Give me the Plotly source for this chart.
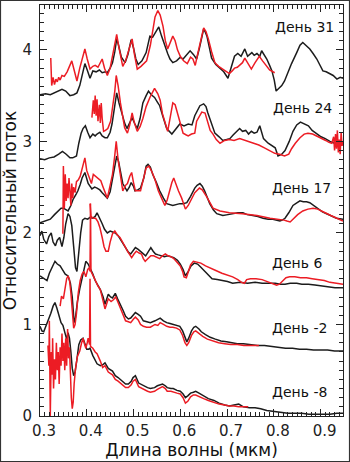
import plotly.graph_objects as go

# Spectra (wavelength in micrometres, relative flux with vertical offsets per epoch)
DAY31_BLACK = [
    (0.300, 3.51), (0.312, 3.52), (0.322, 3.51), (0.335, 3.54), (0.347, 3.57), (0.355, 3.55),
    (0.364, 3.50), (0.372, 3.51), (0.379, 3.53), (0.385, 3.61), (0.391, 3.75), (0.396, 3.85),
    (0.401, 3.78), (0.407, 3.69), (0.413, 3.77), (0.420, 3.76), (0.427, 3.78), (0.433, 3.75),
    (0.440, 3.76), (0.444, 3.75), (0.450, 3.80), (0.455, 3.86), (0.460, 3.98), (0.464, 4.12),
    (0.468, 4.05), (0.474, 3.92), (0.482, 3.86), (0.488, 3.95), (0.495, 4.11), (0.500, 4.02),
    (0.505, 3.90), (0.510, 3.84), (0.518, 3.88), (0.527, 3.97), (0.535, 4.15), (0.541, 4.14),
    (0.547, 4.19), (0.554, 4.25), (0.560, 4.15), (0.566, 4.05), (0.573, 3.96), (0.578, 3.90),
    (0.584, 3.86), (0.592, 3.88), (0.600, 3.92), (0.606, 3.90), (0.614, 3.95), (0.621, 3.99),
    (0.628, 3.95), (0.635, 3.90), (0.641, 4.02), (0.646, 4.12), (0.650, 4.23), (0.653, 4.20),
    (0.657, 4.15), (0.662, 4.03), (0.667, 3.91), (0.676, 3.84), (0.685, 3.80), (0.693, 3.76),
    (0.702, 3.69), (0.709, 3.80), (0.716, 3.93), (0.723, 3.96), (0.730, 3.93), (0.738, 4.01),
    (0.744, 3.93), (0.753, 3.97), (0.758, 3.94), (0.764, 3.96), (0.770, 3.93), (0.774, 3.99),
    (0.779, 3.95), (0.785, 3.90), (0.791, 3.83), (0.796, 3.77), (0.801, 3.67), (0.805, 3.55),
    (0.811, 3.58), (0.817, 3.61), (0.823, 3.66), (0.830, 3.75), (0.838, 3.85), (0.849, 3.97),
    (0.856, 4.05), (0.862, 4.08), (0.869, 4.05), (0.877, 4.01), (0.884, 3.96), (0.892, 3.90),
    (0.898, 3.84), (0.905, 3.77), (0.912, 3.76), (0.920, 3.74), (0.927, 3.72), (0.935, 3.68),
    (0.942, 3.70), (0.948, 3.69),
]
DAY31_RED = [
    (0.323, 3.91), (0.325, 3.61), (0.328, 3.70), (0.331, 3.62), (0.334, 3.68), (0.337, 3.65),
    (0.340, 3.70), (0.343, 3.67), (0.347, 3.72), (0.352, 3.71), (0.358, 3.76), (0.364, 3.84),
    (0.368, 3.88), (0.373, 3.78), (0.379, 3.66), (0.385, 3.80), (0.391, 3.93), (0.396, 4.01),
    (0.401, 3.90), (0.407, 3.79), (0.413, 3.82), (0.418, 3.83), (0.424, 3.81), (0.429, 3.86),
    (0.433, 3.90), (0.438, 3.80), (0.444, 3.72), (0.450, 3.80), (0.455, 3.93), (0.460, 4.05),
    (0.464, 4.17), (0.469, 4.02), (0.477, 3.82), (0.483, 3.88), (0.490, 4.00), (0.497, 4.12),
    (0.502, 3.95), (0.508, 3.79), (0.516, 3.82), (0.528, 3.88), (0.536, 4.05), (0.541, 4.23),
    (0.546, 4.36), (0.552, 4.43), (0.557, 4.38), (0.563, 4.26), (0.568, 4.10), (0.573, 4.01),
    (0.579, 4.08), (0.584, 4.15), (0.589, 4.10), (0.594, 4.00), (0.600, 3.93), (0.607, 3.88),
    (0.615, 3.85), (0.622, 3.92), (0.627, 3.90), (0.632, 3.83), (0.637, 3.95), (0.643, 4.10),
    (0.650, 4.24), (0.655, 4.20), (0.660, 4.12), (0.667, 3.98), (0.674, 3.86), (0.682, 3.82),
    (0.691, 3.79), (0.698, 3.76), (0.705, 3.74), (0.711, 3.77), (0.716, 3.80), (0.722, 3.81),
    (0.727, 3.83), (0.733, 3.86), (0.738, 3.91), (0.745, 3.85), (0.752, 3.79), (0.760, 3.86),
    (0.769, 3.93), (0.776, 3.88), (0.784, 3.83), (0.791, 3.78), (0.802, 3.75),
]

DAY24_BLACK = [
    (0.300, 2.81), (0.310, 2.80), (0.320, 2.82), (0.330, 2.83), (0.340, 2.86), (0.348, 2.89),
    (0.356, 2.86), (0.364, 2.82), (0.370, 2.82), (0.378, 2.84), (0.383, 2.98), (0.388, 3.09),
    (0.392, 3.14), (0.397, 3.17), (0.402, 3.10), (0.407, 3.04), (0.413, 3.08), (0.418, 3.06),
    (0.422, 3.08), (0.428, 3.10), (0.433, 3.06), (0.439, 3.04), (0.444, 3.04), (0.450, 3.10),
    (0.454, 3.19), (0.459, 3.35), (0.464, 3.53), (0.469, 3.42), (0.475, 3.31), (0.481, 3.20),
    (0.486, 3.14), (0.492, 3.20), (0.497, 3.26), (0.503, 3.19), (0.508, 3.14), (0.514, 3.25),
    (0.520, 3.42), (0.527, 3.50), (0.532, 3.55), (0.538, 3.51), (0.545, 3.48), (0.551, 3.43),
    (0.556, 3.39), (0.563, 3.27), (0.571, 3.14), (0.582, 3.08), (0.590, 3.13), (0.599, 3.19),
    (0.608, 3.17), (0.617, 3.19), (0.625, 3.18), (0.631, 3.28), (0.637, 3.34), (0.642, 3.39),
    (0.650, 3.41), (0.655, 3.38), (0.659, 3.31), (0.666, 3.20), (0.674, 3.09), (0.683, 3.05),
    (0.691, 3.01), (0.699, 3.02), (0.706, 3.03), (0.713, 3.07), (0.721, 3.11), (0.727, 3.14),
    (0.733, 3.11), (0.740, 3.12), (0.746, 3.08), (0.752, 3.11), (0.758, 3.09), (0.764, 3.10),
    (0.770, 3.17), (0.774, 3.10), (0.778, 3.03), (0.788, 2.98), (0.798, 2.94), (0.803, 2.93),
    (0.809, 2.84), (0.817, 2.86), (0.824, 2.90), (0.833, 3.00), (0.841, 3.11), (0.849, 3.18),
    (0.857, 3.21), (0.865, 3.19), (0.874, 3.17), (0.882, 3.12), (0.892, 3.08), (0.901, 3.05),
    (0.910, 3.03), (0.920, 3.00), (0.930, 2.98), (0.940, 2.97), (0.948, 2.97),
]
DAY24_RED = [
    (0.411, 3.26), (0.414, 3.45), (0.416, 3.30), (0.418, 3.50), (0.420, 3.28), (0.422, 3.46),
    (0.424, 3.22), (0.427, 3.40), (0.429, 3.20), (0.431, 3.42), (0.433, 3.25), (0.436, 3.11),
    (0.440, 3.12), (0.445, 3.14), (0.451, 3.22), (0.456, 3.39), (0.460, 3.55), (0.463, 3.72),
    (0.467, 3.61), (0.472, 3.42), (0.476, 3.28), (0.481, 3.15), (0.487, 3.09), (0.492, 3.18),
    (0.497, 3.31), (0.502, 3.20), (0.508, 3.11), (0.514, 3.16), (0.520, 3.25), (0.527, 3.38),
    (0.535, 3.48), (0.541, 3.55), (0.545, 3.58), (0.552, 3.52), (0.557, 3.45), (0.562, 3.30),
    (0.567, 3.20), (0.573, 3.11), (0.578, 3.25), (0.584, 3.42), (0.589, 3.40), (0.595, 3.28),
    (0.600, 3.18), (0.606, 3.09), (0.613, 3.07), (0.617, 3.06), (0.624, 3.08), (0.631, 3.09),
    (0.635, 3.22), (0.643, 3.30), (0.646, 3.32), (0.653, 3.31), (0.658, 3.22), (0.664, 3.12),
    (0.670, 3.08), (0.677, 3.02), (0.685, 2.98), (0.695, 3.01), (0.705, 3.02), (0.715, 3.01),
    (0.727, 3.03), (0.738, 3.01), (0.748, 2.99), (0.758, 2.98), (0.768, 2.96), (0.780, 2.93),
    (0.791, 2.90), (0.802, 2.87), (0.812, 2.86), (0.823, 2.84), (0.832, 2.86), (0.838, 2.92),
    (0.846, 2.98), (0.856, 3.04), (0.865, 3.08), (0.873, 3.09), (0.883, 3.08), (0.892, 3.06),
    (0.902, 3.03), (0.911, 3.01), (0.918, 2.99), (0.924, 2.98), (0.928, 3.05), (0.930, 2.90),
    (0.932, 3.08), (0.934, 2.92), (0.936, 3.12), (0.938, 2.88), (0.940, 3.02), (0.942, 2.86),
    (0.944, 3.10), (0.946, 2.95), (0.948, 3.00),
]

DAY17_BLACK = [
    (0.300, 2.11), (0.311, 2.13), (0.322, 2.15), (0.331, 2.20), (0.339, 2.24), (0.345, 2.27),
    (0.350, 2.27), (0.355, 2.25), (0.360, 2.24), (0.366, 2.30), (0.371, 2.37), (0.377, 2.42),
    (0.381, 2.46), (0.386, 2.53), (0.390, 2.60), (0.396, 2.66), (0.400, 2.60), (0.403, 2.54),
    (0.411, 2.48), (0.417, 2.50), (0.422, 2.49), (0.428, 2.47), (0.433, 2.44), (0.439, 2.41),
    (0.444, 2.38), (0.450, 2.45), (0.454, 2.57), (0.460, 2.72), (0.464, 2.84), (0.468, 2.78),
    (0.471, 2.71), (0.477, 2.54), (0.486, 2.46), (0.491, 2.50), (0.495, 2.55), (0.500, 2.51),
    (0.503, 2.46), (0.509, 2.47), (0.515, 2.49), (0.522, 2.60), (0.527, 2.73), (0.531, 2.75),
    (0.536, 2.72), (0.541, 2.64), (0.549, 2.55), (0.556, 2.46), (0.564, 2.38), (0.571, 2.32),
    (0.584, 2.30), (0.599, 2.32), (0.606, 2.32), (0.614, 2.33), (0.622, 2.40), (0.631, 2.49),
    (0.636, 2.52), (0.642, 2.54), (0.647, 2.51), (0.652, 2.46), (0.663, 2.32), (0.671, 2.25),
    (0.678, 2.21), (0.691, 2.19), (0.702, 2.20), (0.713, 2.21), (0.723, 2.22), (0.734, 2.22),
    (0.743, 2.20), (0.755, 2.19), (0.766, 2.18), (0.777, 2.16), (0.788, 2.15), (0.798, 2.15),
    (0.807, 2.14), (0.813, 2.13), (0.818, 2.14), (0.824, 2.16), (0.832, 2.22), (0.841, 2.30),
    (0.850, 2.33), (0.856, 2.35), (0.863, 2.34), (0.870, 2.34), (0.877, 2.33), (0.885, 2.30),
    (0.894, 2.27), (0.904, 2.23), (0.913, 2.21), (0.924, 2.18), (0.934, 2.16), (0.948, 2.15),
]
DAY17_RED = [
    (0.349, 1.99), (0.350, 2.73), (0.352, 2.27), (0.354, 2.64), (0.356, 2.35), (0.358, 2.54),
    (0.360, 2.38), (0.362, 2.60), (0.364, 2.46), (0.366, 2.30), (0.368, 2.54), (0.370, 2.38),
    (0.372, 2.50), (0.375, 2.44), (0.378, 2.56), (0.382, 2.58), (0.386, 2.62), (0.391, 2.72),
    (0.396, 2.82), (0.400, 2.68), (0.405, 2.60), (0.410, 2.54), (0.414, 2.64), (0.419, 2.62),
    (0.425, 2.60), (0.430, 2.57), (0.435, 2.50), (0.440, 2.42), (0.444, 2.38), (0.450, 2.52),
    (0.455, 2.64), (0.460, 2.85), (0.463, 3.00), (0.467, 2.80), (0.471, 2.68), (0.477, 2.46),
    (0.483, 2.52), (0.487, 2.54), (0.492, 2.62), (0.496, 2.66), (0.500, 2.55), (0.504, 2.46),
    (0.515, 2.46), (0.521, 2.60), (0.527, 2.71), (0.533, 2.73), (0.540, 2.66), (0.546, 2.58),
    (0.553, 2.46), (0.560, 2.38), (0.567, 2.30), (0.572, 2.36), (0.577, 2.46), (0.582, 2.55),
    (0.586, 2.60), (0.591, 2.52), (0.596, 2.46), (0.603, 2.38), (0.607, 2.33), (0.611, 2.26),
    (0.617, 2.30), (0.625, 2.38), (0.631, 2.44), (0.641, 2.49), (0.647, 2.47), (0.656, 2.40),
    (0.666, 2.30), (0.670, 2.27), (0.685, 2.24), (0.705, 2.22), (0.733, 2.21), (0.764, 2.19),
    (0.792, 2.16), (0.812, 2.15), (0.822, 2.14), (0.828, 2.13), (0.835, 2.12), (0.841, 2.15),
    (0.851, 2.20), (0.862, 2.24), (0.873, 2.26), (0.884, 2.27), (0.894, 2.26), (0.902, 2.24),
    (0.913, 2.21), (0.922, 2.19), (0.935, 2.16), (0.948, 2.13),
]

DAY6_BLACK = [
    (0.300, 1.97), (0.304, 2.02), (0.308, 1.93), (0.314, 1.88), (0.319, 1.96), (0.324, 2.00),
    (0.328, 1.90), (0.333, 1.86), (0.337, 1.92), (0.342, 1.95), (0.347, 1.85), (0.351, 1.95),
    (0.355, 2.10), (0.360, 2.21), (0.364, 2.18), (0.368, 2.08), (0.372, 1.85), (0.376, 1.62),
    (0.379, 1.58), (0.383, 1.80), (0.387, 2.00), (0.391, 2.14), (0.396, 2.16), (0.402, 2.15),
    (0.407, 2.17), (0.412, 2.16), (0.418, 2.18), (0.422, 2.22), (0.427, 2.17), (0.433, 2.10),
    (0.438, 2.04), (0.444, 2.00), (0.450, 2.02), (0.455, 2.01), (0.461, 2.00), (0.467, 1.97),
    (0.472, 1.93), (0.478, 1.88), (0.483, 1.84), (0.489, 1.79), (0.494, 1.77), (0.499, 1.80),
    (0.504, 1.84), (0.510, 1.82), (0.515, 1.80), (0.520, 1.78), (0.526, 1.75), (0.531, 1.79),
    (0.537, 1.84), (0.542, 1.80), (0.547, 1.77), (0.553, 1.76), (0.558, 1.75), (0.566, 1.74),
    (0.573, 1.75), (0.580, 1.74), (0.586, 1.73), (0.594, 1.70), (0.600, 1.66), (0.606, 1.60),
    (0.611, 1.53), (0.617, 1.58), (0.623, 1.64), (0.630, 1.67), (0.637, 1.66), (0.643, 1.63),
    (0.652, 1.58), (0.660, 1.54), (0.668, 1.50), (0.679, 1.49), (0.690, 1.48), (0.701, 1.47),
    (0.712, 1.45), (0.728, 1.46), (0.744, 1.45), (0.760, 1.46), (0.775, 1.45), (0.790, 1.45),
    (0.803, 1.45), (0.814, 1.44), (0.824, 1.44), (0.835, 1.45), (0.849, 1.45), (0.860, 1.44),
    (0.874, 1.44), (0.888, 1.43), (0.903, 1.42), (0.917, 1.41), (0.931, 1.40), (0.948, 1.40),
]
DAY6_RED = [
    (0.407, 2.32), (0.409, 2.18), (0.414, 2.16), (0.419, 2.16), (0.424, 2.12), (0.428, 2.06),
    (0.433, 1.95), (0.437, 1.85), (0.441, 1.80), (0.446, 1.80), (0.450, 1.90), (0.455, 1.99),
    (0.460, 2.02), (0.465, 1.98), (0.471, 1.95), (0.477, 1.90), (0.482, 1.85), (0.487, 1.80),
    (0.492, 1.76), (0.496, 1.73), (0.501, 1.77), (0.506, 1.80), (0.512, 1.78), (0.517, 1.77),
    (0.521, 1.72), (0.525, 1.69), (0.531, 1.72), (0.537, 1.75), (0.543, 1.75), (0.549, 1.74),
    (0.556, 1.72), (0.562, 1.75), (0.568, 1.77), (0.574, 1.75), (0.580, 1.74), (0.586, 1.72),
    (0.592, 1.68), (0.600, 1.64), (0.605, 1.58), (0.608, 1.52), (0.613, 1.51), (0.617, 1.58),
    (0.622, 1.65), (0.628, 1.69), (0.634, 1.68), (0.644, 1.67), (0.654, 1.64), (0.664, 1.62),
    (0.676, 1.59), (0.689, 1.56), (0.700, 1.54), (0.712, 1.52), (0.723, 1.49), (0.731, 1.46),
    (0.737, 1.45), (0.742, 1.49), (0.750, 1.50), (0.762, 1.50), (0.775, 1.49), (0.785, 1.47),
    (0.793, 1.45), (0.800, 1.44), (0.806, 1.43), (0.812, 1.44), (0.819, 1.47), (0.826, 1.51),
    (0.834, 1.52), (0.845, 1.52), (0.857, 1.51), (0.870, 1.51), (0.882, 1.50), (0.895, 1.49),
    (0.908, 1.48), (0.920, 1.46), (0.933, 1.45), (0.948, 1.44),
]

DAYM2_BLACK = [
    (0.300, 1.53), (0.308, 1.50), (0.315, 1.48), (0.320, 1.56), (0.326, 1.62), (0.332, 1.69),
    (0.337, 1.66), (0.343, 1.64), (0.348, 1.60), (0.354, 1.55), (0.360, 1.53), (0.365, 1.45),
    (0.369, 1.30), (0.371, 1.08), (0.373, 1.02), (0.376, 1.08), (0.380, 1.25), (0.385, 1.39),
    (0.392, 1.55), (0.398, 1.69), (0.403, 1.66), (0.407, 1.62), (0.413, 1.55), (0.418, 1.48),
    (0.422, 1.44), (0.429, 1.38), (0.435, 1.30), (0.439, 1.22), (0.446, 1.33), (0.451, 1.30),
    (0.455, 1.29), (0.461, 1.34), (0.466, 1.28), (0.472, 1.22), (0.478, 1.15), (0.483, 1.09),
    (0.489, 1.06), (0.494, 1.07), (0.500, 1.11), (0.504, 1.13), (0.510, 1.11), (0.515, 1.09),
    (0.521, 1.04), (0.528, 1.03), (0.536, 1.02), (0.546, 1.04), (0.552, 1.06), (0.557, 1.07),
    (0.564, 1.04), (0.571, 1.02), (0.578, 1.01), (0.584, 1.00), (0.592, 0.99), (0.599, 0.98),
    (0.605, 0.93), (0.610, 0.85), (0.614, 0.81), (0.618, 0.85), (0.624, 0.93), (0.629, 0.97),
    (0.633, 0.98), (0.640, 0.95), (0.645, 0.92), (0.654, 0.89), (0.664, 0.86), (0.675, 0.84),
    (0.687, 0.82), (0.699, 0.81), (0.710, 0.80), (0.722, 0.79), (0.735, 0.79), (0.750, 0.78),
    (0.765, 0.77), (0.780, 0.77), (0.795, 0.76), (0.810, 0.75), (0.825, 0.74), (0.840, 0.74),
    (0.855, 0.73), (0.870, 0.73), (0.885, 0.72), (0.900, 0.72), (0.915, 0.72), (0.930, 0.71),
    (0.948, 0.71),
]
DAYM2_RED = [
    (0.343, 1.20), (0.346, 1.31), (0.350, 1.28), (0.353, 1.39), (0.357, 1.50), (0.360, 1.53),
    (0.363, 1.49), (0.366, 1.35), (0.369, 1.15), (0.372, 0.96), (0.375, 1.00), (0.378, 1.12),
    (0.382, 1.35), (0.386, 1.48), (0.390, 1.55), (0.394, 1.58), (0.398, 1.52), (0.402, 1.60),
    (0.405, 1.62), (0.407, 1.58), (0.408, 2.32), (0.409, 1.58), (0.412, 1.55), (0.418, 1.48),
    (0.424, 1.42), (0.429, 1.38), (0.435, 1.25), (0.439, 1.17), (0.446, 1.28), (0.452, 1.25),
    (0.457, 1.27), (0.462, 1.30), (0.467, 1.24), (0.473, 1.17), (0.479, 1.08), (0.483, 1.04),
    (0.489, 1.03), (0.494, 1.02), (0.500, 1.06), (0.504, 1.08), (0.510, 1.05), (0.515, 1.00),
    (0.521, 0.98), (0.528, 0.97), (0.536, 0.97), (0.546, 1.00), (0.552, 0.99), (0.557, 1.02),
    (0.564, 1.00), (0.571, 0.98), (0.578, 0.97), (0.584, 0.97), (0.592, 0.96), (0.599, 0.94),
    (0.605, 0.88), (0.610, 0.80), (0.614, 0.77), (0.618, 0.80), (0.624, 0.88), (0.629, 0.92),
    (0.633, 0.93), (0.640, 0.90), (0.648, 0.87), (0.658, 0.84), (0.670, 0.82), (0.682, 0.80),
    (0.695, 0.79), (0.708, 0.78), (0.722, 0.78), (0.736, 0.77), (0.750, 0.77), (0.762, 0.77),
    (0.768, 0.77),
]

DAYM8_BLACK = [
    (0.300, 0.98), (0.304, 0.93), (0.308, 0.92), (0.313, 0.98), (0.318, 1.05), (0.323, 1.12),
    (0.328, 1.20), (0.332, 1.24), (0.336, 1.18), (0.340, 1.12), (0.345, 1.02), (0.349, 0.99),
    (0.353, 0.92), (0.357, 0.84), (0.360, 0.91), (0.363, 0.85), (0.366, 0.70), (0.369, 0.52),
    (0.372, 0.44), (0.375, 0.48), (0.379, 0.62), (0.383, 0.78), (0.387, 0.83), (0.392, 0.85),
    (0.396, 0.79), (0.400, 0.73), (0.404, 0.73), (0.407, 0.74), (0.413, 0.66), (0.418, 0.61),
    (0.422, 0.57), (0.429, 0.55), (0.434, 0.56), (0.439, 0.58), (0.446, 0.52), (0.455, 0.49),
    (0.461, 0.44), (0.467, 0.42), (0.472, 0.40), (0.478, 0.37), (0.483, 0.35), (0.489, 0.35),
    (0.495, 0.38), (0.499, 0.42), (0.504, 0.44), (0.511, 0.36), (0.521, 0.33), (0.530, 0.31),
    (0.536, 0.30), (0.545, 0.31), (0.551, 0.33), (0.557, 0.34), (0.562, 0.35), (0.568, 0.33),
    (0.572, 0.31), (0.580, 0.30), (0.585, 0.30), (0.593, 0.28), (0.600, 0.27), (0.606, 0.24),
    (0.611, 0.20), (0.616, 0.22), (0.622, 0.25), (0.628, 0.26), (0.633, 0.27), (0.640, 0.25),
    (0.650, 0.22), (0.660, 0.19), (0.672, 0.17), (0.683, 0.14), (0.695, 0.12), (0.705, 0.11),
    (0.715, 0.12), (0.725, 0.13), (0.735, 0.10), (0.748, 0.09), (0.760, 0.09), (0.772, 0.08),
    (0.785, 0.06), (0.800, 0.05), (0.815, 0.04), (0.830, 0.03), (0.845, 0.03), (0.860, 0.03),
    (0.875, 0.02), (0.890, 0.02), (0.905, 0.02), (0.920, 0.02), (0.935, 0.03), (0.948, 0.03),
]
DAYM8_RED = [
    (0.317, 0.77), (0.319, 0.55), (0.320, 1.04), (0.321, 0.20), (0.322, 0.00), (0.324, 0.70),
    (0.326, 0.45), (0.327, 0.85), (0.329, 0.30), (0.331, 0.62), (0.333, 0.40), (0.335, 0.80),
    (0.337, 0.50), (0.339, 0.70), (0.341, 0.35), (0.343, 0.75), (0.345, 0.55), (0.347, 0.90),
    (0.349, 0.60), (0.351, 0.80), (0.353, 0.50), (0.355, 0.85), (0.357, 0.55), (0.359, 0.95),
    (0.361, 0.63), (0.363, 0.75), (0.365, 0.38), (0.367, 0.20), (0.369, 0.08), (0.371, 0.15),
    (0.373, 0.35), (0.376, 0.52), (0.380, 0.65), (0.385, 0.71), (0.389, 0.80), (0.392, 0.85),
    (0.395, 0.79), (0.398, 0.74), (0.401, 0.80), (0.403, 0.85), (0.406, 0.78), (0.407, 1.50),
    (0.408, 0.76), (0.413, 0.74), (0.418, 0.70), (0.422, 0.68), (0.429, 0.60), (0.434, 0.53),
    (0.439, 0.55), (0.446, 0.48), (0.455, 0.45), (0.461, 0.40), (0.467, 0.38), (0.472, 0.36),
    (0.478, 0.33), (0.483, 0.31), (0.489, 0.31), (0.495, 0.34), (0.499, 0.38), (0.504, 0.40),
    (0.511, 0.32), (0.521, 0.29), (0.530, 0.27), (0.536, 0.26), (0.545, 0.27), (0.551, 0.29),
    (0.557, 0.31), (0.562, 0.32), (0.568, 0.30), (0.572, 0.27), (0.580, 0.27), (0.585, 0.26),
    (0.593, 0.25), (0.600, 0.24), (0.606, 0.20), (0.611, 0.14), (0.616, 0.16), (0.622, 0.21),
    (0.628, 0.23), (0.633, 0.23), (0.640, 0.21), (0.650, 0.19), (0.660, 0.17), (0.672, 0.15),
    (0.683, 0.13), (0.695, 0.12), (0.705, 0.11), (0.715, 0.11), (0.725, 0.10), (0.735, 0.10),
    (0.745, 0.10),
]

# Epoch labels and their anchor points
EPOCH_LABELS = ["День 31", "День 24", "День 17", "День 6", "День -2", "День -8"]
LABEL_WL = [0.866, 0.862, 0.860, 0.849, 0.856, 0.856]
LABEL_FLUX = [4.25, 3.37, 2.49, 1.67, 0.96, 0.26]

X_TICKS = [0.3, 0.4, 0.5, 0.6, 0.7, 0.8, 0.9]
Y_TICKS = [0, 1, 2, 3, 4]

BLACK = "#1c1c1c"
RED = "#ec1c24"
FONT = "DejaVu Sans"

observed = [DAY31_BLACK, DAY24_BLACK, DAY17_BLACK, DAY6_BLACK, DAYM2_BLACK, DAYM8_BLACK]
template = [DAY31_RED, DAY24_RED, DAY17_RED, DAY6_RED, DAYM2_RED, DAYM8_RED]

fig = go.Figure()
for group, color in ((observed, BLACK), (template, RED)):
    for pts in group:
        fig.add_trace(go.Scatter(
            x=[p[0] for p in pts], y=[p[1] for p in pts], mode="lines",
            line=dict(color=color, width=1.5), hoverinfo="skip", showlegend=False,
        ))

for text, wl, fl in zip(EPOCH_LABELS, LABEL_WL, LABEL_FLUX):
    fig.add_annotation(x=wl, y=fl, text=text, showarrow=False, xanchor="center", yanchor="middle",
                       font=dict(family=FONT, size=14, color="#111"))

axis_common = dict(
    showline=True, linecolor="#222", linewidth=1, mirror="allticks",
    ticks="inside", ticklen=7, tickwidth=1, tickcolor="#222",
    showgrid=False, zeroline=False,
    tickfont=dict(family=FONT, size=15, color="#222"),
)

fig.update_layout(
    width=350, height=462,
    margin=dict(l=40, r=7, t=5, b=46),
    paper_bgcolor="white", plot_bgcolor="white",
    font=dict(family=FONT, color="#111"),
    xaxis=dict(
        range=[0.3, 0.948], tickvals=X_TICKS, ticktext=[f"{v:.1f}" for v in X_TICKS],
        ticklabelshift=4, ticklabelstandoff=1,
        minor=dict(dtick=0.01, tick0=0.3, ticks="inside", ticklen=4, tickcolor="#222", showgrid=False),
        title=dict(text="Длина волны (мкм)", font=dict(family=FONT, size=17, color="#111"), standoff=2),
        **axis_common,
    ),
    yaxis=dict(
        range=[0, 4.49], tickvals=Y_TICKS, ticklabelstandoff=4,
        minor=dict(dtick=0.1, tick0=0, ticks="inside", ticklen=4, tickcolor="#222", showgrid=False),
        title=dict(text="Относительный поток", font=dict(family=FONT, size=17, color="#111"), standoff=2),
        **axis_common,
    ),
    shapes=[dict(type="rect", xref="paper", yref="paper",
                 x0=-0.1304, x1=1.0215, y0=-0.1107, y1=1.0109,
                 line=dict(color="#333", width=1.2), fillcolor="rgba(0,0,0,0)", layer="above")],
)

fig.write_html("out.html")
